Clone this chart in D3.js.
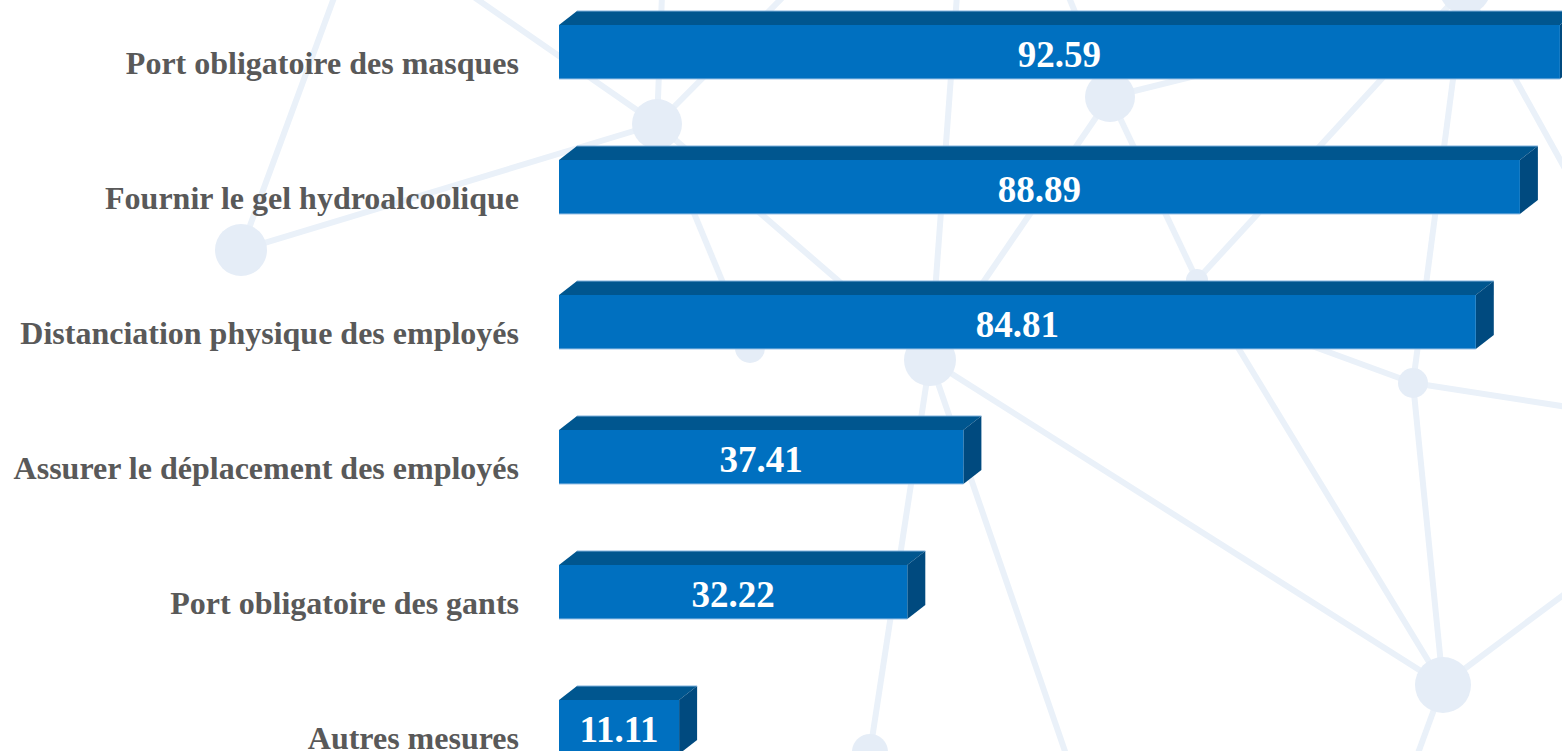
<!DOCTYPE html>
<html>
<head>
<meta charset="utf-8">
<script src="https://cdn.jsdelivr.net/npm/d3@7"></script>
<style>
  html, body { margin: 0; padding: 0; background: #ffffff; overflow: hidden; }
  svg { display: block; }
</style>
</head>
<body>
<svg id="chart" width="1562" height="751"></svg>
<script>
// ---- Data ----
const categories = [
  "Port obligatoire des masques",
  "Fournir le gel hydroalcoolique",
  "Distanciation physique des employés",
  "Assurer le déplacement des employés",
  "Port obligatoire des gants",
  "Autres mesures"
];
const values = [92.59, 88.89, 84.81, 37.41, 32.22, 11.11];

// Decorative background network (nodes and links)
const bgNodes = [
  [241, 250, 26], [657, 124, 25], [1110, 97, 25], [1197, 280, 11],
  [930, 360, 26], [750, 348, 15], [1413, 383, 15], [1443, 685, 28],
  [870, 752, 18], [1465, -12, 26]
];
const bgLinks = [
  [[241, 250], [335, -5]], [[241, 250], [657, 124]], [[657, 124], [471, -5]],
  [[657, 124], [662, -5]], [[657, 124], [785, -5]], [[657, 124], [750, 348]],
  [[657, 124], [930, 360]], [[957, -5], [930, 360]], [[1110, 97], [930, 360]],
  [[1110, 97], [1197, 280]], [[1110, 97], [1068, -5]], [[1110, 97], [1300, 50]],
  [[1197, 280], [1465, -12]], [[1465, -12], [1413, 383]], [[1465, -12], [1610, 250]],
  [[1197, 280], [1443, 685]], [[1200, 305], [1413, 383]], [[1413, 383], [1600, 412]],
  [[1413, 383], [1443, 685]], [[930, 360], [870, 752]], [[930, 360], [1068, 760]],
  [[930, 360], [1443, 685]], [[1443, 685], [1610, 560]], [[1443, 685], [1410, 775]]
];

// ---- Layout ----
const svg = d3.select("#chart");
const x = d3.scaleLinear().domain([0, 100]).range([559, 1640]);
const y = d3.scaleBand().domain(categories).range([-56, 835]).padding(0.6);
const dx = 18, dy = 14;

// background
const bg = svg.append("g");
bg.selectAll("line").data(bgLinks).join("line")
  .attr("x1", d => d[0][0]).attr("y1", d => d[0][1])
  .attr("x2", d => d[1][0]).attr("y2", d => d[1][1])
  .attr("stroke", "#eaf1f9").attr("stroke-width", 6);
bg.selectAll("circle").data(bgNodes).join("circle")
  .attr("cx", d => d[0]).attr("cy", d => d[1]).attr("r", d => d[2])
  .attr("fill", "#e5edf7");

// bars
const data = categories.map((c, i) => ({ c, v: values[i] }));
const bars = svg.append("g").selectAll("g").data(data).join("g");

bars.append("path") // top face
  .attr("d", d => {
    const x0 = x(0), x1 = x(d.v), yt = y(d.c);
    return `M${x0},${yt}L${x0 + dx},${yt - dy}L${x1 + dx},${yt - dy}L${x1},${yt}Z`;
  })
  .attr("fill", "#00568f");
bars.append("path") // side face
  .attr("d", d => {
    const x1 = x(d.v), yt = y(d.c), yb = yt + y.bandwidth();
    return `M${x1},${yt}L${x1 + dx},${yt - dy}L${x1 + dx},${yb - dy}L${x1},${yb}Z`;
  })
  .attr("fill", "#004a7f");
bars.append("rect") // front face
  .attr("x", x(0)).attr("y", d => y(d.c))
  .attr("width", d => x(d.v) - x(0)).attr("height", y.bandwidth())
  .attr("fill", "#0070c0");
bars.append("line") // light bottom edge
  .attr("x1", x(0)).attr("x2", d => x(d.v))
  .attr("y1", d => y(d.c) + y.bandwidth()).attr("y2", d => y(d.c) + y.bandwidth())
  .attr("stroke", "#9cc2e5").attr("stroke-width", 1.2);
bars.append("line") // light top edge
  .attr("x1", x(0) + dx).attr("x2", d => x(d.v) + dx)
  .attr("y1", d => y(d.c) - dy).attr("y2", d => y(d.c) - dy)
  .attr("stroke", "#7fb0dc").attr("stroke-width", 1);

// value labels
bars.append("text")
  .attr("x", d => (x(0) + x(d.v)) / 2)
  .attr("y", d => y(d.c) + 42)
  .attr("text-anchor", "middle")
  .attr("font-family", "'Liberation Serif', 'Times New Roman', serif")
  .attr("font-weight", "bold")
  .attr("font-size", 37)
  .attr("fill", "#ffffff")
  .text(d => d.v.toFixed(2));

// category labels
svg.append("g").selectAll("text").data(categories).join("text")
  .attr("x", 519)
  .attr("y", d => y(d) + 49)
  .attr("text-anchor", "end")
  .attr("font-family", "'Liberation Serif', 'Times New Roman', serif")
  .attr("font-weight", "bold")
  .attr("font-size", 32)
  .attr("fill", "#595959")
  .text(d => d);
</script>
</body>
</html>
